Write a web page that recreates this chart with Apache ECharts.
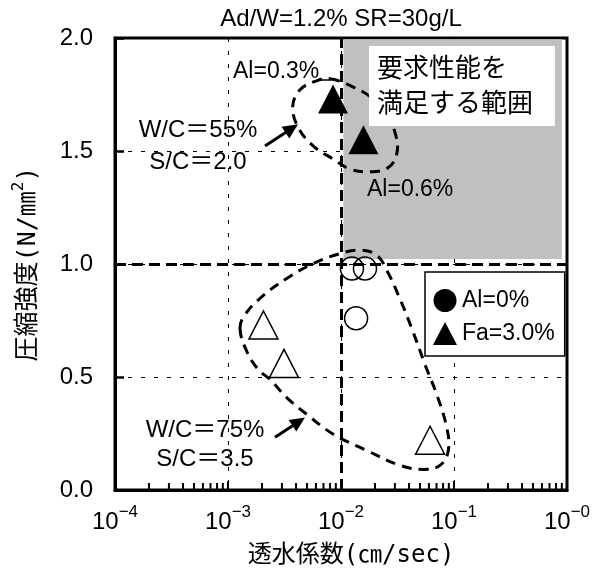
<!DOCTYPE html>
<html>
<head>
<meta charset="utf-8">
<script src="https://cdn.jsdelivr.net/npm/echarts@6/dist/echarts.min.js"></script>
<style>
  html, body { margin: 0; padding: 0; background: #fff; }
  #chart { width: 598px; height: 573px; }
</style>
</head>
<body>
<div id="chart"></div>
<script>
const FONT = '"Liberation Sans", "Noto Sans CJK JP", sans-serif';
const NAME_FONT = '"DejaVu Sans Mono", "Noto Sans CJK JP", monospace';

// Axis tick labels: x is shown as 10^n, y as fixed-point strengths
const xTickExponents = ['−4', '−3', '−2', '−1', '−0'];
const yTickLabels = ['0.0', '0.5', '1.0', '1.5', '2.0'];
// Log-axis minor tick multipliers within each decade
const minorMultipliers = [2, 3, 4, 5, 6, 7, 8, 9];
const decades = [1e-4, 1e-3, 1e-2, 1e-1];

// [permeability (cm/sec), compressive strength (N/mm2)]
// W/C=75%, S/C=3.5, Al=0%  (open circles)
const wc75Al0 = [[0.0125, 0.98], [0.0163, 0.98], [0.0136, 0.76]];
// W/C=75%, S/C=3.5, Fa=3.0%  (open triangles)
const wc75Fa3 = [[0.00206, 0.73], [0.00313, 0.56], [0.0614, 0.22]];
// W/C=55%, S/C=2.0, Fa=3.0% with Al=0.3% / Al=0.6%  (filled triangles)
const wc55Fa3 = [[0.0085, 1.73], [0.0158, 1.55]];

// Required-performance limits and the shaded zone that satisfies them
const permeabilityLimit = 0.01;
const strengthLimit = 1.0;
const requiredZone = [[0.0105, 1.022], [0.9, 1.995]];

// Hand-drawn group outlines, in data coordinates
const outline55 = [
  [0.00799, 1.820], [0.01285, 1.783], [0.01869, 1.735], [0.02538, 1.662],
  [0.03067, 1.566], [0.03111, 1.486], [0.02622, 1.427], [0.01805, 1.408],
  [0.01201, 1.420], [0.00855, 1.464], [0.00569, 1.522], [0.00419, 1.603],
  [0.00374, 1.698], [0.00434, 1.771], [0.00589, 1.808]
];
const outline75 = [
  [0.001277, 0.716], [0.001464, 0.614], [0.001854, 0.533], [0.002353, 0.489],
  [0.003308, 0.409], [0.004972, 0.335], [0.008551, 0.247], [0.01688, 0.175],
  [0.03327, 0.109], [0.05350, 0.091], [0.07518, 0.109], [0.08904, 0.175],
  [0.08617, 0.277], [0.07027, 0.423], [0.05539, 0.555], [0.04223, 0.716],
  [0.03214, 0.863], [0.02538, 0.973], [0.02070, 1.039], [0.01473, 1.061],
  [0.00980, 1.046], [0.00569, 1.002], [0.003308, 0.936], [0.001920, 0.848],
  [0.001413, 0.775]
];
// Pointer arrows from the group captions to the outlines: [tail, tip]
const arrows = [
  [[0.002126, 1.522], [0.004164, 1.618]],
  [[0.002605, 0.233], [0.004801, 0.321]]
];

const minorTickValues = [];
decades.forEach(function (d) {
  minorMultipliers.forEach(function (m) { minorTickValues.push([m * d, 0]); });
});

const chart = echarts.init(document.getElementById('chart'), null, { renderer: 'canvas' });

function outlineSeries(points) {
  return {
    type: 'custom',
    coordinateSystem: 'cartesian2d',
    data: points,
    silent: true,
    z: 4,
    renderItem: function (params, api) {
      if (params.dataIndex !== 0) return null;
      return {
        type: 'polygon',
        shape: { points: points.map(function (p) { return api.coord(p); }), smooth: 0.4 },
        style: { fill: 'none', stroke: '#000', lineWidth: 3, lineDash: [10, 7] }
      };
    }
  };
}

const option = {
  animation: false,
  backgroundColor: '#fff',
  textStyle: { fontFamily: FONT, color: '#000' },
  grid: {
    left: 115, right: 31, top: 38, bottom: 80,
    show: true, borderColor: '#000', borderWidth: 3
  },
  legend: {
    orient: 'vertical',
    left: 425, top: 272,
    padding: [17, 10, 11, 8],
    itemGap: 10,
    itemWidth: 24, itemHeight: 23,
    backgroundColor: '#fff',
    borderColor: '#000', borderWidth: 1.5,
    selectedMode: false,
    textStyle: { fontSize: 23, fontFamily: FONT, color: '#000' },
    data: [
      { name: 'Al=0%', icon: 'circle', itemStyle: { color: '#000', borderWidth: 0 } },
      { name: 'Fa=3.0%', icon: 'triangle', itemStyle: { color: '#000', borderWidth: 0 } }
    ]
  },
  xAxis: {
    type: 'log',
    logBase: 10,
    min: 1e-4,
    max: 1,
    name: '透水係数(㎝/sec)',
    nameLocation: 'middle',
    nameGap: 54,
    nameTextStyle: { fontSize: 24, fontFamily: NAME_FONT, color: '#000', padding: [0, 0, 0, 20] },
    axisLine: { show: true, onZero: false, lineStyle: { color: '#000', width: 3 } },
    axisTick: { show: true, inside: true, length: 9, lineStyle: { color: '#000', width: 2 } },
    minorTick: { show: false },
    splitLine: { show: true, lineStyle: { color: '#000', width: 1, type: [4, 9] } },
    axisLabel: {
      margin: 14,
      formatter: function (v, i) { return '{b|10}{s|' + xTickExponents[i] + '}'; },
      rich: {
        b: { fontSize: 24, fontFamily: FONT, color: '#000', lineHeight: 30, verticalAlign: 'bottom' },
        s: { fontSize: 17, fontFamily: FONT, color: '#000', lineHeight: 17, verticalAlign: 'top' }
      }
    }
  },
  yAxis: {
    type: 'value',
    min: 0,
    max: 2,
    interval: 0.5,
    name: '{a|圧縮強度(N/㎜}{s|2}{a|)}',
    nameLocation: 'middle',
    nameGap: 74,
    nameRotate: 90,
    nameTextStyle: {
      rich: {
        a: { fontSize: 25, fontFamily: NAME_FONT, color: '#000', lineHeight: 30, verticalAlign: 'bottom' },
        s: { fontSize: 16, fontFamily: NAME_FONT, color: '#000', lineHeight: 16, verticalAlign: 'top' }
      }
    },
    axisLine: { show: true, onZero: false, lineStyle: { color: '#000', width: 3 } },
    axisTick: { show: true, inside: true, length: 9, lineStyle: { color: '#000', width: 2.5 } },
    splitLine: { show: true, lineStyle: { color: '#000', width: 1, type: [4, 9] } },
    axisLabel: {
      margin: 22,
      fontSize: 24,
      fontFamily: FONT,
      color: '#000',
      formatter: function (v, i) { return yTickLabels[i]; }
    }
  },
  series: [
    {
      // shaded zone of required performance
      name: 'zone',
      type: 'scatter',
      data: [],
      silent: true,
      z: 1,
      markArea: {
        silent: true,
        itemStyle: { color: '#c0c0c0', opacity: 1 },
        data: [[{ coord: requiredZone[0] }, { coord: requiredZone[1] }]]
      }
    },
    {
      // limit lines: permeability 1e-2 cm/sec and strength 1.0 N/mm2
      name: 'limits',
      type: 'scatter',
      data: [],
      silent: true,
      z: 3,
      markLine: {
        silent: true,
        symbol: ['none', 'none'],
        label: { show: false },
        lineStyle: { color: '#000', width: 3, type: [11, 6] },
        data: [{ xAxis: permeabilityLimit }, { yAxis: strengthLimit }]
      }
    },
    {
      // minor ticks of the log x axis, drawn upward from the bottom edge
      type: 'custom',
      coordinateSystem: 'cartesian2d',
      data: minorTickValues,
      silent: true,
      clip: false,
      z: 6,
      renderItem: function (params, api) {
        const p = api.coord([api.value(0), api.value(1)]);
        return {
          type: 'line',
          shape: { x1: p[0], y1: p[1] - 1, x2: p[0], y2: p[1] - 7 },
          style: { stroke: '#000', lineWidth: 2 }
        };
      }
    },
    outlineSeries(outline55),
    outlineSeries(outline75),
    {
      type: 'custom',
      coordinateSystem: 'cartesian2d',
      data: arrows.map(function (a) { return a[1]; }),
      silent: true,
      z: 6,
      renderItem: function (params, api) {
        const a = arrows[params.dataIndex];
        const p0 = api.coord(a[0]);
        const p1 = api.coord(a[1]);
        const dx = p1[0] - p0[0], dy = p1[1] - p0[1];
        const len = Math.sqrt(dx * dx + dy * dy);
        const ux = dx / len, uy = dy / len;
        const hl = 15, hw = 7;
        const bx = p1[0] - ux * hl, by = p1[1] - uy * hl;
        return {
          type: 'group',
          children: [
            { type: 'line', shape: { x1: p0[0], y1: p0[1], x2: bx + ux * 2, y2: by + uy * 2 },
              style: { stroke: '#000', lineWidth: 3 } },
            { type: 'polygon', shape: { points: [
                p1, [bx - uy * hw, by + ux * hw], [bx + uy * hw, by - ux * hw]
              ] }, style: { fill: '#000' } }
          ]
        };
      }
    },
    {
      name: 'Al=0%',
      type: 'scatter',
      data: wc75Al0,
      symbol: 'circle',
      symbolSize: 23,
      z: 5,
      itemStyle: { color: 'rgba(0,0,0,0)', borderColor: '#000', borderWidth: 1.5, opacity: 1 }
    },
    {
      name: 'Fa=3.0%',
      type: 'scatter',
      data: wc75Fa3,
      symbol: 'triangle',
      symbolSize: [29, 28],
      z: 5,
      itemStyle: { color: 'rgba(0,0,0,0)', borderColor: '#000', borderWidth: 1.5, opacity: 1 }
    },
    {
      name: 'Fa=3.0%',
      type: 'scatter',
      data: wc55Fa3,
      symbol: 'triangle',
      symbolSize: [30, 29],
      z: 5,
      itemStyle: { color: '#000', opacity: 1 }
    }
  ],
  graphic: [
    {
      type: 'text', z: 100,
      style: { x: 341, y: 19, text: 'Ad/W=1.2% SR=30g/L', font: '24px ' + FONT,
        fill: '#000', align: 'center', verticalAlign: 'middle' }
    },
    {
      type: 'rect', z: 100,
      shape: { x: 369, y: 46, width: 186, height: 80 }, style: { fill: '#fff' }
    },
    {
      type: 'text', z: 101,
      style: { x: 377, y: 87, text: '要求性能を\n満足する範囲', font: '26px ' + FONT,
        lineHeight: 35, fill: '#000', align: 'left', verticalAlign: 'middle' }
    },
    {
      type: 'text', z: 100,
      style: { x: 233, y: 72, text: 'Al=0.3%', font: '23px ' + FONT, fill: '#000',
        align: 'left', verticalAlign: 'middle' }
    },
    {
      type: 'line', z: 100,
      shape: { x1: 318, y1: 80, x2: 331, y2: 80 }, style: { stroke: '#000', lineWidth: 1.5 }
    },
    {
      type: 'text', z: 100,
      style: { x: 367, y: 190, text: 'Al=0.6%', font: '23px ' + FONT, fill: '#000',
        align: 'left', verticalAlign: 'middle' }
    },
    {
      type: 'text', z: 100,
      style: { x: 198, y: 146, text: 'W/C＝55%\nS/C＝2.0', font: '24px ' + FONT, lineHeight: 32,
        fill: '#000', align: 'center', verticalAlign: 'middle' }
    },
    {
      type: 'text', z: 100,
      style: { x: 205, y: 445, text: 'W/C＝75%\nS/C＝3.5', font: '24px ' + FONT, lineHeight: 29,
        fill: '#000', align: 'center', verticalAlign: 'middle' }
    }
  ]
};

chart.setOption(option);
</script>
</body>
</html>
